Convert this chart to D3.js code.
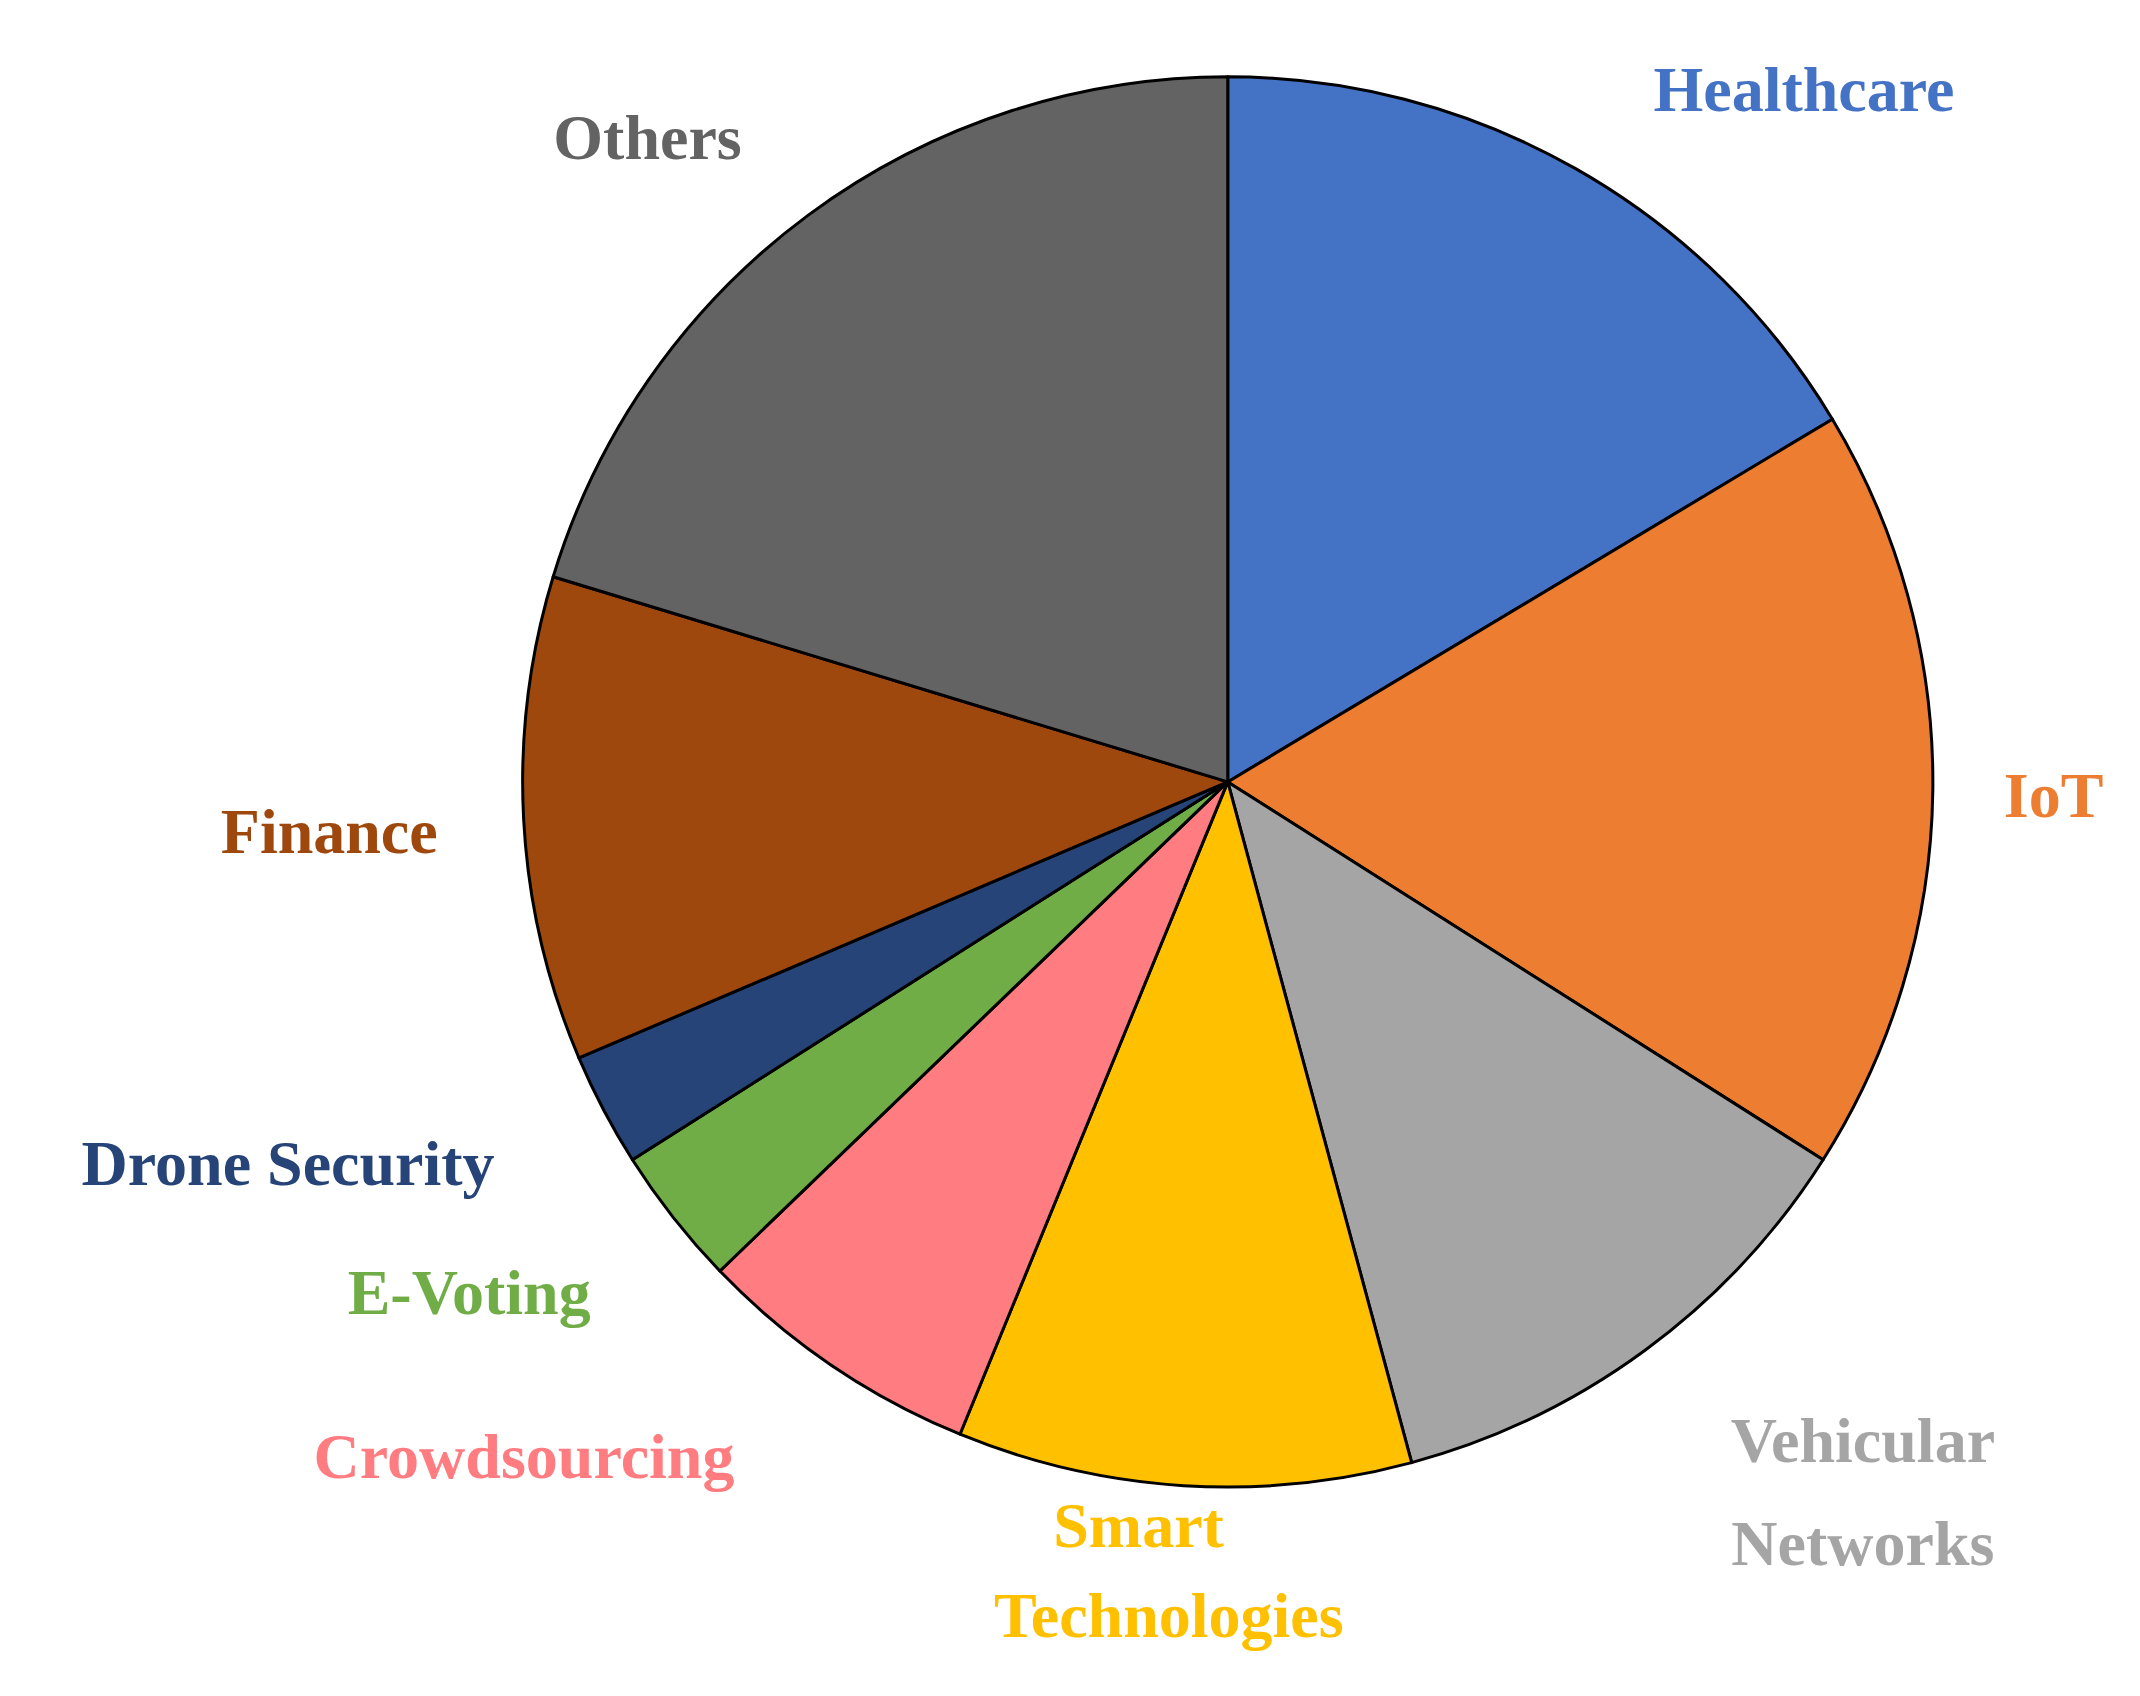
<!DOCTYPE html>
<html><head><meta charset="utf-8">
<script src="https://cdn.jsdelivr.net/npm/d3@7"></script>
<style>body{margin:0;background:#fff}</style></head>
<body><svg id="c" width="2140" height="1696"></svg>
<script>
const categories = ["Healthcare","IoT","Vehicular Networks","Smart Technologies","Crowdsourcing","E-Voting","Drone Security","Finance","Others"];
const values = [16.4,17.6,11.8,10.4,6.6,3.2,2.6,11.1,20.3];
const colors = ["#4472C4","#ED7D31","#A5A5A5","#FFC000","#FF7C80","#70AD47","#264478","#9E480E","#636363"];
const labelColors = ["#4472C4","#ED7D31","#A5A5A5","#FFC000","#FF7C80","#70AD47","#264478","#9E480E","#636363"];

const k = 2140/1560;
const svg = d3.select("#c");
const cx = 895*k, cy = 570*k, R = 514*k;
const pie = d3.pie().sort(null).value(d=>d)(values);
const arc = d3.arc().innerRadius(0).outerRadius(R);
const g = svg.append("g").attr("transform",`translate(${cx},${cy})`);
g.selectAll("path").data(pie).join("path")
  .attr("d",arc).attr("fill",(d,i)=>colors[i])
  .attr("stroke","#000").attr("stroke-width",3).attr("stroke-linejoin","round");

// label layout (display coords, centered lines)
const labelPos = [
  [[1315,65]],
  [[1497,580]],
  [[1358,1050],[1358,1125]],
  [[830,1112],[852,1178]],
  [[382,1062]],
  [[342,942]],
  [[210,848]],
  [[240,606]],
  [[472,100]]
];
const lines = categories.map(c => c==="Vehicular Networks" ? ["Vehicular","Networks"] : c==="Smart Technologies" ? ["Smart","Technologies"] : [c]);
categories.forEach((c,i)=>{
  lines[i].forEach((t,j)=>{
    svg.append("text").attr("x",labelPos[i][j][0]*k).attr("y",labelPos[i][j][1]*k)
      .attr("text-anchor","middle").attr("dominant-baseline","central")
      .attr("font-family","'Liberation Serif','DejaVu Serif',serif").attr("font-weight","bold")
      .attr("font-size",64).attr("fill",labelColors[i]).text(t);
  });
});
</script></body></html>
